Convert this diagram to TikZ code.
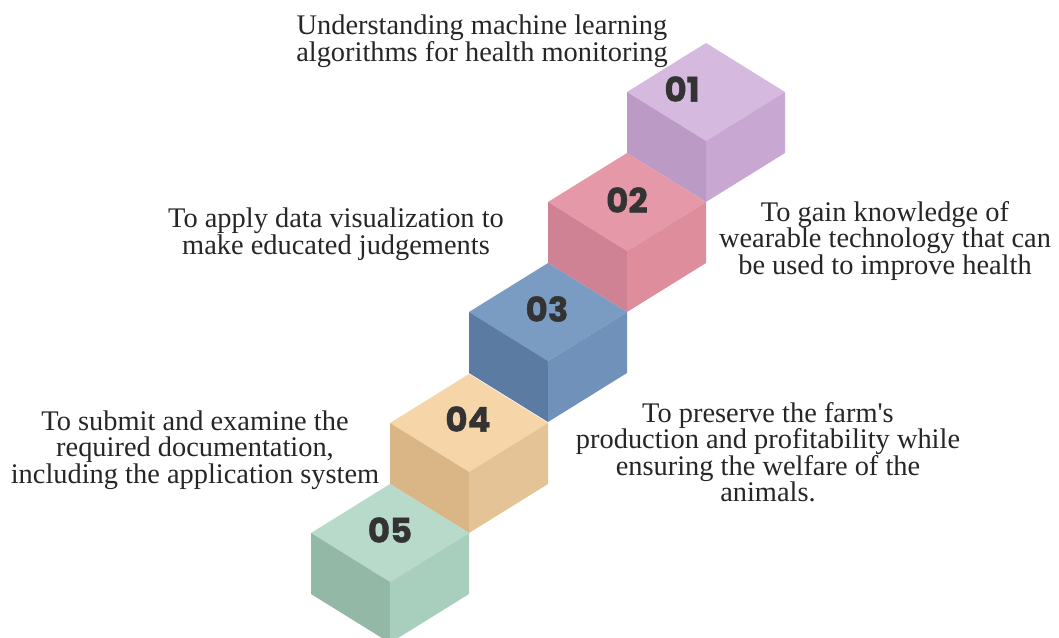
\documentclass[tikz,border=0pt]{standalone}
\usepackage{fontspec}
\setmainfont{Liberation Serif}
\newfontfamily\numfont{Poppins}[BoldFeatures={FakeBold=1.2}]
\usepackage{tikz}
\usepackage{xcolor}
\usetikzlibrary{positioning}

\definecolor{oneTop}{HTML}{D5B9DE}
\definecolor{oneLeft}{HTML}{BC9AC6}
\definecolor{oneRight}{HTML}{C8A8D2}
\definecolor{twoTop}{HTML}{E599A8}
\definecolor{twoLeft}{HTML}{CF8293}
\definecolor{twoRight}{HTML}{DE8D9D}
\definecolor{threeTop}{HTML}{7B9CC2}
\definecolor{threeLeft}{HTML}{5C7BA2}
\definecolor{threeRight}{HTML}{7092BA}
\definecolor{fourTop}{HTML}{F6D5A8}
\definecolor{fourLeft}{HTML}{DAB585}
\definecolor{fourRight}{HTML}{E4C496}
\definecolor{fiveTop}{HTML}{B8DACB}
\definecolor{fiveLeft}{HTML}{93B9A6}
\definecolor{fiveRight}{HTML}{A8CFBD}
\definecolor{inkgray}{HTML}{262626}
\definecolor{numgray}{HTML}{333333}

\begin{document}
\begin{tikzpicture}[x=0.5pt, y=-0.5pt,
    goal/.style={align=center, text=inkgray,
        font=\fontsize{14.2}{13.25}\selectfont, inner sep=0pt},
    num/.style={text=numgray, font=\numfont\bfseries\fontsize{17}{17}\selectfont,
        inner sep=0pt},
    pics/cube/.style n args={3}{code={
        \fill[#1] (0,-49) -- (79,0) -- (0,49) -- (-79,0) -- cycle;
        \fill[#2] (-79,0) -- (0,49) -- (0,110) -- (-79,61) -- cycle;
        \fill[#3] (79,0) -- (0,49) -- (0,110) -- (79,61) -- cycle;
    }}]
\useasboundingbox (0,0) rectangle (1059,637);

% steps, back to front
\pic at (706,92) {cube={oneTop}{oneLeft}{oneRight}};
\pic at (627,202) {cube={twoTop}{twoLeft}{twoRight}};
\pic at (548,312) {cube={threeTop}{threeLeft}{threeRight}};
\pic at (469,423) {cube={fourTop}{fourLeft}{fourRight}};
\pic at (390,533) {cube={fiveTop}{fiveLeft}{fiveRight}};

\node[num] (n1) at (682,89) {01};
\node[num] (n2) at (627,200) {02};
\node[num] (n3) at (547,309) {03};
\node[num] (n4) at (468,419) {04};
\node[num] (n5) at (390,530) {05};

% objectives
\node[goal] (g1) at (482,41) {Understanding machine learning\\algorithms for health monitoring};
\node[goal] (g2) at (336,234) {To apply data visualization to\\make educated judgements};
\node[goal] (g3) at (885,241) {To gain knowledge of\\wearable technology that can\\be used to improve health};
\node[goal] (g4) at (768,452) {To preserve the farm\textquotesingle s\\production and profitability while\\ensuring the welfare of the\\animals.};
\node[goal] (g5) at (195,450) {To submit and examine the\\required documentation,\\including the application system};
\end{tikzpicture}
\end{document}
